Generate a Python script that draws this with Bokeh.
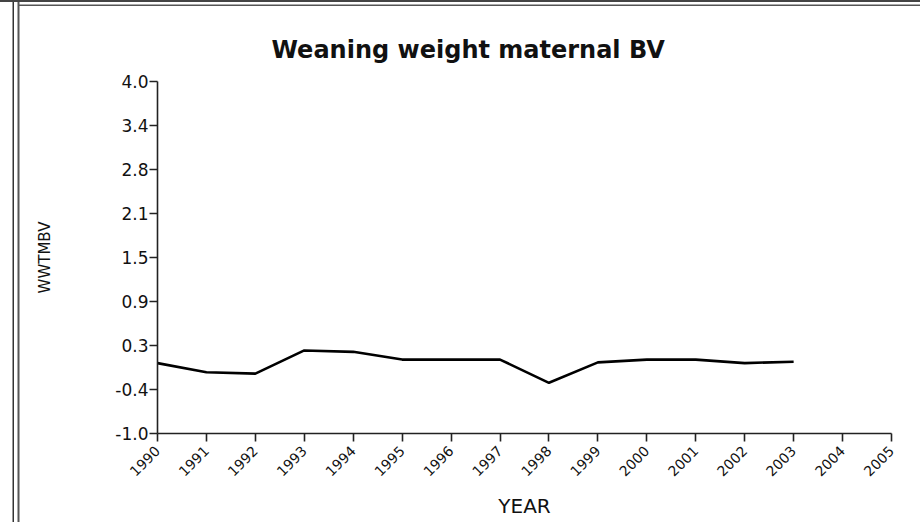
from bokeh.plotting import figure
from bokeh.models import FixedTicker
from bokeh.embed import file_html
from bokeh.resources import INLINE

# ---- data ----
years = [1990, 1991, 1992, 1993, 1994, 1995, 1996, 1997, 1998, 1999, 2000, 2001, 2002, 2003]
wwtmbv = [0.0, -0.13, -0.15, 0.18, 0.16, 0.05, 0.05, 0.05, -0.28, 0.01, 0.05, 0.05, 0.0, 0.02]

x_tick_values = [1990, 1991, 1992, 1993, 1994, 1995, 1996, 1997, 1998, 1999, 2000, 2001, 2002, 2003, 2004, 2005]
x_tick_labels = [str(v) for v in x_tick_values]
y_tick_values = [-1.0, -0.375, 0.25, 0.875, 1.5, 2.125, 2.75, 3.375, 4.0]
y_tick_labels = ["-1.0", "-0.4", "0.3", "0.9", "1.5", "2.1", "2.8", "3.4", "4.0"]

title_text = "Weaning weight maternal BV"
x_label = "YEAR"
y_label = "WWTMBV"

W, H = 920, 522
p = figure(width=W, height=H, output_backend="svg", toolbar_location=None,
           x_range=(1990, 2005), y_range=(-1.0, 4.0),
           min_border_left=157, min_border_right=29, min_border_top=81, min_border_bottom=89)

# double rules of the surrounding table cell (top and left edges)
p.styles = {"box-shadow": ", ".join([
    "inset 0 2px 0 0 #444444",
    "inset 12.5px 0 0 0 #ffffff",
    "inset 14px 0 0 0 #333333",
    "inset 17.5px 0 0 0 #ffffff",
    "inset 19.5px 0 0 0 #555555",
    "inset 0 4.5px 0 0 #ffffff",
    "inset 0 6px 0 0 #555555",
])}
p.border_fill_color = None

p.line(years, wwtmbv, line_color="black", line_width=2.6)

p.grid.visible = False
p.outline_line_color = None
p.background_fill_color = "white"

p.title.text = title_text
p.title.align = "left"
p.title.offset = 114
p.title.text_font = "DejaVu Sans"
p.title.text_font_size = "24px"
p.title.text_font_style = "bold"
p.title.text_color = "#111111"
p.title.standoff = 35

for ax in (p.xaxis[0], p.yaxis[0]):
    ax.axis_line_color = "#222222"
    ax.axis_line_width = 1.6
    ax.major_tick_line_color = "#222222"
    ax.major_tick_line_width = 1.6
    ax.major_tick_in = 0
    ax.major_tick_out = 8
    ax.minor_tick_line_color = None
    ax.major_label_text_color = "#111111"
    ax.major_label_text_font = "DejaVu Sans"
    ax.axis_label_text_font = "DejaVu Sans"
    ax.axis_label_text_font_style = "normal"
    ax.axis_label_text_color = "#111111"

xa = p.xaxis[0]
xa.ticker = FixedTicker(ticks=x_tick_values)
xa.major_label_overrides = {v: l for v, l in zip(x_tick_values, x_tick_labels)}
xa.major_label_orientation = 0.785398
xa.major_label_text_font_size = "14px"
xa.major_label_standoff = 7
xa.axis_label = x_label
xa.axis_label_text_font_size = "20px"
xa.axis_label_standoff = 10

ya = p.yaxis[0]
ya.ticker = FixedTicker(ticks=y_tick_values)
ya.major_label_overrides = {v: l for v, l in zip(y_tick_values, y_tick_labels)}
ya.major_label_text_font_size = "17px"
ya.major_label_standoff = 1
ya.axis_label = y_label
ya.axis_label_text_font_size = "15px"
ya.axis_label_standoff = 58

open("out.html", "w").write(file_html(p, INLINE))
